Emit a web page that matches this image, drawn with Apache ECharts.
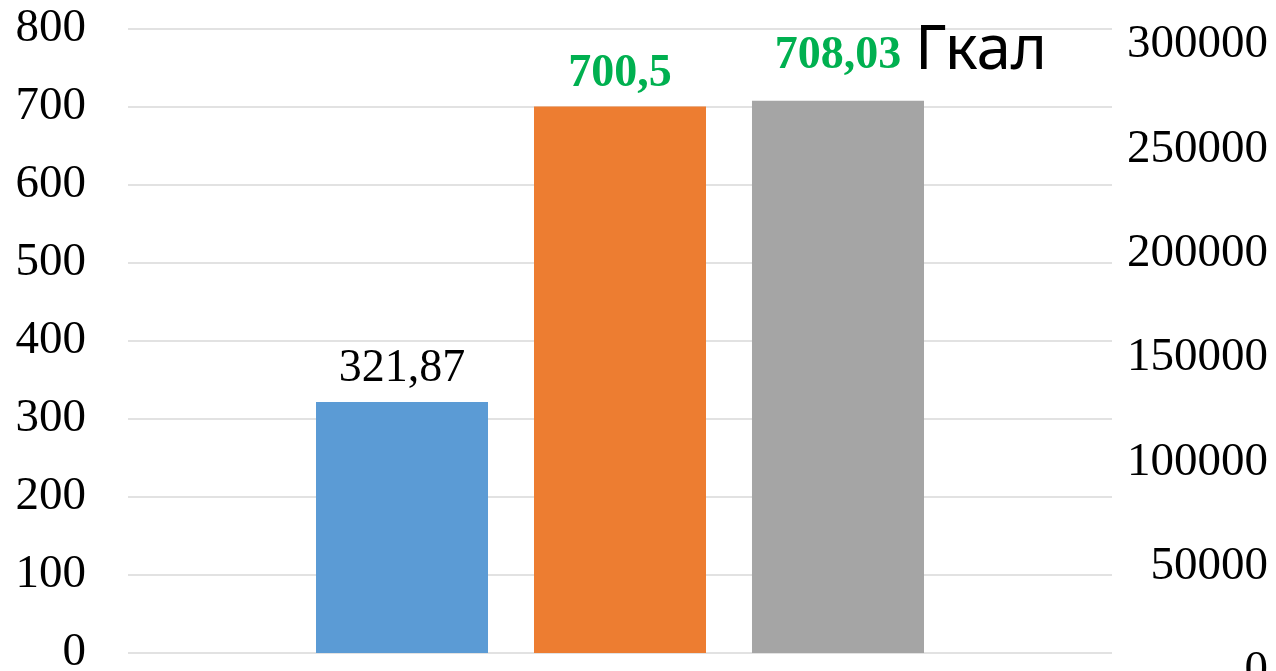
<!DOCTYPE html>
<html>
<head>
<meta charset="utf-8">
<script src="https://cdn.jsdelivr.net/npm/echarts@6/dist/echarts.min.js"></script>
<style>html,body{margin:0;padding:0;background:#fff}#c{width:1276px;height:671px}</style>
</head>
<body>
<div id="c"></div>
<script>
const categories = [''];
const seriesNames = ['A', 'B', 'C'];
const seriesValues = [321.87, 700.5, 708.03];
const seriesLabels = ['321,87', '700,5', '708,03'];
const unitText = 'Гкал';
const leftTicks = { min: 0, max: 800, interval: 100 };
const rightTicks = { min: 0, max: 300000, interval: 50000 };
const colors = ['#5B9BD5', '#ED7D31', '#A5A5A5'];

const chart = echarts.init(document.getElementById('c'));
const serif = 'Liberation Serif, Times New Roman, serif';
const unitW = 146;

const series = seriesValues.map((v, i) => {
  let label;
  if (i === 0) {
    label = { show: true, position: 'top', distance: 10, formatter: seriesLabels[i],
      fontFamily: serif, fontSize: 46, color: '#000' };
  } else if (i === 1) {
    label = { show: true, position: 'top', distance: 10, formatter: seriesLabels[i],
      fontFamily: serif, fontSize: 46, fontWeight: 'bold', color: '#00B050' };
  } else {
    label = { show: true, position: 'top', distance: 10,
      formatter: '{pad|}{v|' + seriesLabels[i] + '}{u|' + unitText + '}',
      rich: {
        pad: { width: unitW },
        v: { fontFamily: serif, fontSize: 46, fontWeight: 'bold', color: '#00B050' },
        u: { fontFamily: 'Noto Sans, sans-serif', fontSize: 62, color: '#000', width: unitW, align: 'right', padding: [0, 0, 8, 0] }
      } };
  }
  return {
    name: seriesNames[i], type: 'bar', xAxisIndex: 0, yAxisIndex: 0,
    data: [v], barWidth: 172, barGap: (46 / 172 * 100).toFixed(2) + '%',
    itemStyle: { color: colors[i] }, label, animation: false
  };
});

chart.setOption({
  animation: false,
  grid: [
    { left: 128, right: 164, top: 29, bottom: 18, outerBoundsMode: 'none', containLabel: false },
    { left: 128, right: 164, top: 45, bottom: 0, outerBoundsMode: 'none', containLabel: false }
  ],
  xAxis: [
    { type: 'category', gridIndex: 0, data: categories, axisLine: { show: false }, axisTick: { show: false }, axisLabel: { show: false } },
    { type: 'category', gridIndex: 1, data: categories, show: false }
  ],
  yAxis: [
    { type: 'value', gridIndex: 0, position: 'left', min: leftTicks.min, max: leftTicks.max, interval: leftTicks.interval,
      axisLine: { show: false }, axisTick: { show: false },
      splitLine: { lineStyle: { color: '#D9D9D9', width: 1.5 } },
      axisLabel: { fontFamily: serif, fontSize: 47, color: '#000', margin: 42, formatter: v => String(v) } },
    { type: 'value', gridIndex: 1, position: 'right', min: rightTicks.min, max: rightTicks.max, interval: rightTicks.interval,
      axisLine: { show: false }, axisTick: { show: false }, splitLine: { show: false },
      axisLabel: { fontFamily: serif, fontSize: 47, color: '#000', margin: 156, align: 'right', formatter: v => String(v) } }
  ],
  series
});
</script>
</body>
</html>
